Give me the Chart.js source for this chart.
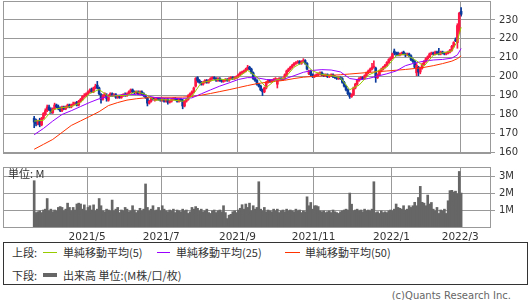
<!DOCTYPE html>
<html>
<head>
<meta charset="utf-8">
<script src="https://cdn.jsdelivr.net/npm/chart.js@4.4.1/dist/chart.umd.min.js"></script>
<style>
  body { margin: 0; width: 530px; height: 300px; background: #fff; position: relative; overflow: hidden;
         font-family: "Noto Sans CJK JP", "DejaVu Sans", sans-serif; color: #333; }
  canvas { position: absolute; left: 0; }
  .t { position: absolute; white-space: nowrap; font-size: 11px; line-height: 11px; }
  .ln { position: absolute; display: block; height: 0; }
  #legend { position: absolute; left: 3px; top: 242px; width: 523px; height: 41px; border: 1px solid #333; }
</style>
</head>
<body>
<canvas id="main" width="530" height="160" style="top:0"></canvas>
<canvas id="vol" width="530" height="82" style="top:160px"></canvas>

<div class="t" style="left:8px;top:168px">単位: M</div>

<div id="legend"></div>
<div class="t" style="left:12px;top:247px">上段:</div>
<span class="ln" style="left:43px;top:252px;width:14px;border-top:1px solid #99cc00"></span>
<div class="t" style="left:63px;top:247px">単純移動平均(5)</div>
<span class="ln" style="left:157px;top:252px;width:13px;border-top:1px solid #9900ff"></span>
<div class="t" style="left:176px;top:247px">単純移動平均(25)</div>
<span class="ln" style="left:285px;top:252px;width:15px;border-top:1px solid #ff3300"></span>
<div class="t" style="left:305px;top:247px">単純移動平均(50)</div>
<div class="t" style="left:12px;top:270px">下段:</div>
<span class="ln" style="left:43px;top:273px;width:14px;height:4px;background:#666"></span>
<div class="t" style="left:63px;top:270px">出来高 単位:(M株/口/枚)</div>

<div class="t" style="right:19px;top:290px;color:#666;font-family:'DejaVu Sans';font-size:10px">(c)Quants Research Inc.</div>

<script>
// daily prices, 2021/3/22 .. 2022/3/1 (index = trading day)
const opens = [
  178,176.5,175,177,174.5,178,180,182,184,182.5,
  181,183,185,184,183.5,182,184,183,184,185,
  184,185,185.5,186.5,185,187,188,189.5,190,191,
  192,193.5,192,194,195.5,194,190.5,188,190,190,
  187.5,190,191,190,190.5,189,189.5,189,190,190.5,
  190,191,192,193,192,191.5,192,191,192,191,
  190,188.5,186,187,188.5,187.5,188,188.5,188,187.5,
  188,187,188,186.5,187,188,188.5,188,187,188,
  187.5,184.5,187,188,190,191,192,195,199.5,198,
  197,196,197,198,197,198,199,199.5,199,198,
  199,198,197.5,198,198.5,198,199,199.5,199,199.5,
  200,201,202,202.5,203,204,205,204,202,199,
  198,196,195,193,192,194,197,198,197.5,198,
  198.5,196,198.5,199,198.5,199,201,203,204,205,
  206,207,207.5,208,207,208,208.5,207,201.5,203,
  201,200,200.5,201,201.5,202,201,200.5,201,200,
  200.5,201,200,199.5,199,199.5,199,197,195,193,
  191,189.5,190.5,194,196,198,199,199.5,199,200.5,
  202,203,204,205,204.5,199.5,201,203,204,205,
  206,207.5,209,210,213.5,212.5,212.5,211.5,212,213,
  212,211.5,212,211,209,208,202,205,202.5,204.5,
  206.5,208,209.5,210.5,212,212.5,212,213,212.5,212,
  213,212.5,212,212.5,213,214,216,219.5,218,224,
  234.5
];
const highs = [
  179,177.5,177,178,178.5,181,183,185,185,183.5,
  183.5,186,185.5,185,184,184.5,184.5,184.5,185.5,185.5,
  185.5,186.5,186.5,187,187.5,188.5,190,191,191.5,192.5,
  193.5,194,194.5,196,197.5,194.5,191,190.5,191.5,191,
  190.5,191.5,191.5,191,191,190,190,190.5,191,191.5,
  191.5,192.5,193.5,193.5,192.5,192.5,192.5,192.5,192.5,191.5,
  190.5,189,187.5,189,189,188.5,189,189,188.5,188.5,
  188.5,188.5,188.5,187.5,188.5,189,189,188.5,188.5,188.5,
  188,187.5,188.5,190.5,191.5,192.5,194.5,199.5,200,198.5,
  197.5,197.5,198.5,198.5,198.5,199.5,200,200,199.5,199.5,
  199.5,198.5,198.5,199,199,199.5,200,200,200,200.5,
  201.5,202.5,203,203.5,204.5,206,205.5,204.5,202.5,199.5,
  198.5,196.5,195.5,193.5,194.5,197.5,198.5,198.5,198.5,199,
  199.5,199,199.5,199.5,199.5,201.5,203.5,204.5,205.5,206.5,
  207.5,208,208.5,208.5,208.5,209.5,209,207.5,203.5,203.5,
  201.5,201,201.5,202,202.5,202.5,201.5,201.5,201.5,201,
  201.5,201.5,200.5,200,200,200,199.5,197.5,195.5,193.5,
  191.5,191,194.5,196.5,198.5,199.5,200,200,201,202.5,
  203.5,204.5,207,208.4,205,201.5,203.5,204.5,205.5,206.5,
  208,209.5,210.5,212.5,214.6,213,213,212.5,213,213.5,
  212.5,212.5,212.5,211.5,209.5,208.5,207,205.5,205,207,
  208.5,210,211,212.5,213,213,213.5,213.5,215,213.5,
  213.5,213,213,213.5,214.5,216.5,218.5,220.5,228,234,
  236.5
];
const lows = [
  173,174,174.5,173.5,174,177.5,179.5,181.5,182,180.5,
  180.5,182.5,183.5,182.5,181.5,181.5,182.5,182.5,183.5,183.5,
  183.5,184.5,185,184.5,184.5,186.5,187.5,189,189.5,190.5,
  191.5,191.5,191.5,193.5,193.5,190.5,186,187.5,189.5,187,
  187,189.5,189.5,189.5,188.5,188.5,188.5,188.5,189.5,189.5,
  189.5,190.5,191.5,191.5,191,191,190.5,190.5,190.5,189.5,
  188.5,184.5,185.5,186.5,187.5,187,187.5,187.5,187,187,
  186.5,186.5,185.5,186,186.5,187.5,187.5,186.5,186.5,187,
  183,184,186.5,187.5,189.5,190.5,191.5,194.5,197,196.5,
  195.5,195.5,196.5,196.5,196.5,197.5,198.5,198.5,197.5,197.5,
  197.5,197,197,197.5,197.5,197.5,198.5,198.5,198.5,199,
  199.5,200.5,201.5,202,202.5,203.5,203.5,201.5,198.5,197.5,
  195.5,194.5,192.5,190,191.5,193.5,196.5,197,197,197.5,
  198,194,198,198,198,198.5,200.5,202.5,203.5,204.5,
  205.5,206.5,207,206.5,206.5,207.5,206.5,203.5,201,200.5,
  199.5,199.5,200,200.5,201,200.5,200,200,199.5,199.5,
  200,199.5,199,198.5,198.5,198.5,196.5,194.5,192.5,190.5,
  188.5,189,190,193.5,195.5,197.5,198.5,198.5,198.5,200,
  201.5,202.5,203.5,204.5,197,199,200.5,202.5,203.5,204.5,
  205.5,207,208.5,209.5,211.5,211,211,211,211.5,211.5,
  210.5,211,210.5,208.5,207.5,204.5,200.5,200.5,201.5,204,
  206,207.5,209,210,211.5,211.5,211.5,212,211.5,211.5,
  212,211.5,211.5,212,212.5,213.5,215.5,218.5,215,223,
  232
];
const closes = [
  176,175,176.5,174.5,178,180.5,182,184,182.5,181,
  183,185,184,183,182,184,183,184,185,184,
  185,185.5,186,185,187,188,189.5,190,191,192,
  193,192,194,195,194,191,188,190,191,188.5,
  190,191,190,190.5,189,189.5,189,190,190.5,190,
  191,192,193,192,191.5,192,191,192,191,190,
  189,186,187,188.5,188,188,188.5,188,187.5,188,
  187,188,186.5,187,188,188.5,188,187,188,187.5,
  184.5,187,188,190,191,192,194,199,198,197,
  196,197,198,197,198,199,199.5,199,198,199,
  198,197.5,198,198.5,198,199,199.5,199,199.5,200,
  201,202,202.5,203,204,205,204,202,199,198,
  196,195,193,192,194,197,198,197.5,198,198.5,
  199,198.5,199,198.5,199,201,203,204,205,206,
  207,207.5,208,207,208,208.5,207,204,203,201,
  200,200.5,201,201.5,202,201,200.5,201,200,200.5,
  201,200,199.5,199,199.5,199,197,195,193,191,
  189.5,190.5,194,196,198,199,199.5,199,200.5,202,
  203,204,205,205.5,199.5,201,203,204,205,206,
  207.5,209,210,212,212.5,212,211.5,212,212.5,212,
  211.5,212,211,209,208,205,206,202.5,204.5,206.5,
  208,209.5,210.5,212,212.5,212,213,212.5,212,213,
  212.5,212,212.5,213,214,216,218,219,227,233.5,
  233
];
// volume, millions
const volumes = [
  2.76,0.9,0.95,1.0,0.9,1.05,1.1,1.72,1.0,1.1,
  0.95,1.05,1.0,1.2,1.25,1.2,1.0,1.1,1.45,1.2,
  1.0,1.2,1.05,1.4,1.45,1.4,1.1,1.35,1.0,1.2,
  1.3,1.05,1.35,1.0,1.1,1.72,1.3,1.0,0.95,1.1,
  1.05,1.0,1.63,1.0,1.1,1.2,0.9,1.05,1.0,1.2,
  1.1,0.95,1.0,1.3,1.05,0.9,1.0,1.15,1.0,1.1,
  2.57,1.2,1.0,1.1,1.3,1.0,1.05,1.2,1.0,1.3,
  1.1,1.0,0.95,1.05,1.0,1.1,0.9,1.05,1.0,0.95,
  1.1,1.0,1.05,0.85,0.95,1.2,1.1,1.25,1.15,1.0,
  1.1,0.95,1.0,1.1,0.9,0.85,1.0,1.05,0.9,1.0,
  1.05,0.95,1.3,0.9,0.55,0.75,0.8,0.95,1.0,0.9,
  1.05,1.15,1.36,1.1,1.4,1.2,1.45,1.0,1.3,1.1,
  1.2,2.7,1.1,1.0,1.2,0.95,1.05,1.0,0.95,1.1,
  1.0,1.1,0.9,1.0,1.05,0.95,1.1,1.0,1.05,1.0,
  0.95,1.1,1.0,1.05,0.9,1.0,0.95,1.82,1.3,1.49,
  1.1,1.3,1.3,1.25,1.0,0.95,1.0,0.9,0.95,1.0,
  0.9,1.05,0.95,0.9,0.85,0.95,1.0,1.05,1.1,1.05,
  2.04,1.39,1.0,1.05,1.1,1.0,1.05,0.95,1.1,1.0,
  1.05,1.0,1.1,2.7,0.9,0.95,0.85,1.0,0.9,0.95,
  0.9,1.0,1.05,1.0,1.1,1.4,1.2,1.15,1.1,1.3,
  1.05,1.1,1.3,1.2,1.3,1.5,1.3,1.78,2.43,1.5,
  1.45,1.3,1.92,1.4,1.49,1.1,1.0,1.2,0.85,1.05,
  1.0,1.1,0.85,1.59,2.18,2.2,2.1,2.15,2.0,3.3,
  2.04
];

// moving averages at these day indexes
const maIdx = [0,5,10,15,20,25,30,35,40,45,50,55,60,65,70,75,80,85,90,95,100,105,110,115,120,
  125,130,135,140,145,150,155,160,165,170,175,180,185,190,195,200,205,210,215,220,225,228,230];
const ma5 = [176.5,176.9,182.5,183.6,184.2,186.3,191.1,193.2,189.5,190,190.1,192.1,190.6,187.5,187.8,187.6,187,189.6,196.8,197.8,198.7,198.2,199.8,203.3,199.8,
  194.2,198.2,199.2,205,207.8,203,201.2,200.6,199.4,193.1,195.5,200.8,203,205.1,211.1,211.9,209,205.5,211.3,212.6,213.5,218.8,226.1];
const ma25 = [169.3,172.6,176.5,180,182,184.2,186.4,188.3,189.5,190.2,190.6,190.6,190,189,188.6,188.5,188.5,188.8,190.9,193,195,196.7,198.5,199.5,199.4,
  198.5,198.2,198.8,200.5,202.3,203.3,203.7,203.5,202.5,199,198.3,199,200.3,201.5,203,205.8,207.2,208.2,208.8,209.1,209.8,211.5,214.9];
const ma50 = [161.6,164.2,166.8,170.5,174.2,176.6,179,181.5,184.7,186.3,187.6,188.3,188.8,189,189.1,189.1,189.2,189.5,190.2,191.1,192.1,193.1,194.2,195.3,196.3,
  197,197.5,198.1,199,199.7,200.1,200.4,200.7,201,201.4,201.8,202.2,202.6,203,203.4,203.8,204.3,204.9,205.8,206.9,208.2,209.5,211];

// month boundaries (between trading days) and their labels
const tickIdx = [28.5, 68.5, 109.5, 150.5, 192.5, 229.5];
const tickLabels = ['2021/5', '2021/7', '2021/9', '2021/11', '2022/1', '2022/3'];
const priceTicks = [160, 170, 180, 190, 200, 210, 220, 230];
const volTicks = [1, 2, 3];

const UP = '#ff1744', DOWN = '#0a3a9c';
const X_MIN = -16.8, X_MAX = 246.1;
const GRID = '#999';

const candleCol = closes.map((c, i) => c >= opens[i] ? UP : DOWN);
const pts = arr => maIdx.map((d, k) => ({ x: d, y: arr[k] }));

const frame = {
  id: 'frame',
  afterDatasetsDraw(chart) {
    const a = chart.chartArea, c = chart.ctx;
    c.save();
    c.strokeStyle = GRID;
    c.lineWidth = 1;
    c.strokeRect(Math.round(a.left) + 0.5, Math.round(a.top) + 0.5,
      Math.round(a.right - a.left) - 1, Math.round(a.bottom - a.top) - 1);
    c.restore();
  }
};

// fixed axis sizes, no extra label padding
const fixSize = (w, h) => s => {
  if (w != null) s.width = w;
  if (h != null) s.height = h;
  s.paddingTop = s.paddingBottom = s.paddingLeft = s.paddingRight = 0;
};

const xAxis = h => ({
  type: 'linear', min: X_MIN, max: X_MAX, offset: false,
  afterBuildTicks: s => { s.ticks = tickIdx.map(v => ({ value: v })); },
  grid: { color: GRID, drawTicks: false, offset: false },
  border: { display: false },
  afterFit: fixSize(null, h)
});

new Chart(document.getElementById('main'), {
  type: 'bar',
  data: {
    datasets: [
      { type: 'line', data: pts(ma5), borderColor: '#99cc00', borderWidth: 1, pointRadius: 0 },
      { type: 'line', data: pts(ma25), borderColor: '#9900ff', borderWidth: 1, pointRadius: 0 },
      { type: 'line', data: pts(ma50), borderColor: '#ff3300', borderWidth: 1, pointRadius: 0 },
      { data: opens.map((o, i) => ({ x: i, y: [o, closes[i]] })), backgroundColor: candleCol,
        barThickness: 2, grouped: false, minBarLength: 1 },
      { data: lows.map((l, i) => ({ x: i, y: [l, highs[i]] })), backgroundColor: candleCol,
        barThickness: 1, grouped: false }
    ]
  },
  options: {
    responsive: false,
    animation: false,
    layout: { padding: { left: 3, top: 1, right: 0, bottom: 0 } },
    plugins: { legend: { display: false }, tooltip: { enabled: false } },
    scales: {
      x: Object.assign(xAxis(6), { ticks: { display: false } }),
      y: {
        position: 'right', min: 159.1, max: 240,
        afterBuildTicks: s => { s.ticks = priceTicks.map(v => ({ value: v })); },
        ticks: { color: '#333', font: { family: 'DejaVu Sans', size: 10 }, padding: 4 },
        grid: { color: GRID, tickLength: 4 },
        border: { display: false },
        afterFit: fixSize(39, null)
      }
    }
  },
  plugins: [frame]
});

new Chart(document.getElementById('vol'), {
  type: 'bar',
  data: {
    datasets: [{
      data: volumes.map((v, i) => ({ x: i, y: v })),
      backgroundColor: '#666', barThickness: 2
    }]
  },
  options: {
    responsive: false,
    animation: false,
    layout: { padding: { left: 3, top: 7, right: 0, bottom: 0 } },
    plugins: { legend: { display: false }, tooltip: { enabled: false } },
    scales: {
      x: Object.assign(xAxis(14), {
        ticks: { callback: (v, i) => tickLabels[i], color: '#333', autoSkip: false, maxRotation: 0,
                 font: { family: 'DejaVu Sans', size: 10.5 }, padding: 3 }
      }),
      y: {
        position: 'right', min: 0, max: 3.56,
        afterBuildTicks: s => { s.ticks = volTicks.map(v => ({ value: v })); },
        ticks: { callback: v => v + 'M', color: '#333', font: { family: 'DejaVu Sans', size: 10 }, padding: 4 },
        grid: { color: GRID, tickLength: 4 },
        border: { display: false },
        afterFit: fixSize(39, null)
      }
    }
  },
  plugins: [frame]
});
</script>
</body>
</html>
